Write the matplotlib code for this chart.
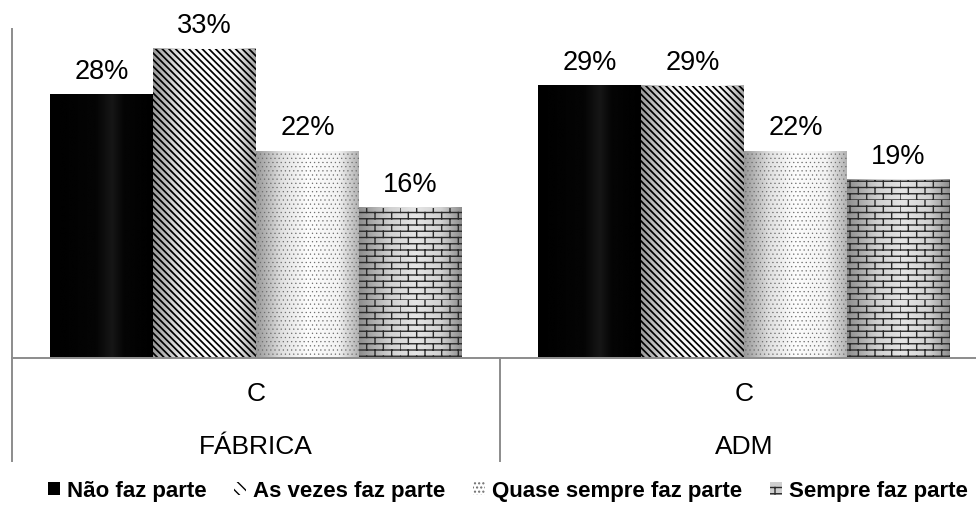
import numpy as np
import matplotlib
matplotlib.use("Agg")
from matplotlib import pyplot as plt
from matplotlib import hatch as mhatch
from matplotlib.patches import Patch
from matplotlib.path import Path

plt.rcParams['font.family'] = ['Liberation Sans', 'DejaVu Sans']

# data
groups = ["FÁBRICA", "ADM"]
sub_label = "C"
series = ["Não faz parte", "As vezes faz parte", "Quase sempre faz parte", "Sempre faz parte"]
nao_faz = [28, 29]
as_vezes = [33, 29]
quase_sempre = [22, 22]
sempre = [16, 19]


# brick texture: swap in for the unused 'O' hatch
class Bricks(mhatch.HatchPatternBase):
    def __init__(self, hatch, density):
        self.rows = 16 if 'O' in hatch else 0
        self.cols = 6
        self.num_vertices = self.rows * (1 + self.cols) * 2

    def set_vertices_and_codes(self, vertices, codes):
        k = 0
        for i in range(self.rows):
            y0 = i / self.rows
            y1 = (i + 1) / self.rows
            vertices[k] = (0, y0)
            vertices[k + 1] = (1, y0)
            k += 2
            shift = 0.5 / self.cols if i % 2 else 0.0
            for j in range(self.cols):
                x = j / self.cols + shift
                vertices[k] = (x, y0)
                vertices[k + 1] = (x, y1)
                k += 2
        codes[0::2] = Path.MOVETO
        codes[1::2] = Path.LINETO


mhatch._hatch_types[mhatch._hatch_types.index(mhatch.LargeCircles)] = Bricks

STRIPES = "\\" * 5

# per-series look: hatch, hatch colour, hatch width, shading profile (grey level across bar)
styles = [
    dict(hatch=None, color="black", lw=0.5, shade=([0, 0.45, 0.6, 0.72, 1], [0.0, 0.02, 0.09, 0.02, 0.0])),
    dict(hatch=STRIPES, color="black", lw=1.25, shade=([0, 0.3, 0.55, 0.8, 1], [0.6, 0.95, 1.0, 0.95, 0.65])),
    dict(hatch="....", color="#6e6e6e", lw=0.4, shade=([0, 0.25, 0.5, 0.8, 1], [0.6, 0.88, 0.99, 0.95, 0.7])),
    dict(hatch="O", color="#2a2a2a", lw=1.0, shade=([0, 0.3, 0.55, 0.8, 1], [0.55, 0.82, 0.9, 0.82, 0.55])),
]

fig = plt.figure(figsize=(9.76, 5.1), dpi=100)
# category band is 488px wide, so the right edge sits just past the image
ax = fig.add_axes([12 / 976, 1 - 358.5 / 510, 1.0, 328.5 / 510])

x = np.arange(len(groups))
w = 0.2106
values = [nao_faz, as_vezes, quase_sempre, sempre]
t = np.linspace(0, 1, 200)

for i, (vals, st) in enumerate(zip(values, styles)):
    with plt.rc_context({'hatch.linewidth': st['lw']}):
        bars = ax.bar(x + (i - 1.5) * w, vals, w, facecolor='none', edgecolor=st['color'],
                      linewidth=0, hatch=st['hatch'], zorder=2)
    grad = np.interp(t, *st['shade'])
    for b, v in zip(bars, vals):
        if hasattr(b, 'set_hatch_linewidth'):
            b.set_hatch_linewidth(st['lw'])
        x0 = b.get_x()
        ax.imshow(grad[np.newaxis, :], cmap='gray', vmin=0, vmax=1, aspect='auto',
                  extent=(x0, x0 + b.get_width(), 0, b.get_height()), zorder=1,
                  interpolation='bilinear')
        ax.annotate(f"{v}%", (x0 + b.get_width() / 2, b.get_height()), xytext=(0, 8),
                    textcoords='offset points', ha='center', va='bottom', fontsize=19.5)

ax.set_xlim(-0.5, len(groups) - 0.5)
ax.set_ylim(0, 35.1)
ax.set_xticks([])
ax.set_yticks([])
for s in ['top', 'right']:
    ax.spines[s].set_visible(False)
for s in ['left', 'bottom']:
    ax.spines[s].set_color('#8c8c8c')
    ax.spines[s].set_linewidth(1.4)

# category table below the axis
tr = ax.get_xaxis_transform()
for xi, g in zip(x, groups):
    ax.text(xi, -0.107, sub_label, transform=tr, ha='center', va='center', fontsize=19)
    ax.text(xi, -0.268, g, transform=tr, ha='center', va='center', fontsize=19)
for xb in np.arange(len(groups)) - 0.5:
    ax.plot([xb, xb], [0, -0.315], transform=tr, color='#8c8c8c', lw=1.4, clip_on=False)

handles = [
    Patch(facecolor='black', edgecolor='black', linewidth=0),
    Patch(facecolor='white', edgecolor='black', hatch='\\\\\\', linewidth=0),
    Patch(facecolor='white', edgecolor='#6e6e6e', hatch='....', linewidth=0),
    Patch(facecolor='#cfcfcf', edgecolor='#2a2a2a', hatch='O', linewidth=0),
]
fig.legend(handles, series, loc='center', bbox_to_anchor=(0.52, 1 - 492 / 510), ncol=4,
           frameon=False, prop=dict(weight='bold', size=16), handlelength=0.55,
           handleheight=0.55, handletextpad=0.3, columnspacing=1.25, borderaxespad=0)

fig.savefig("out.png", dpi=100)
